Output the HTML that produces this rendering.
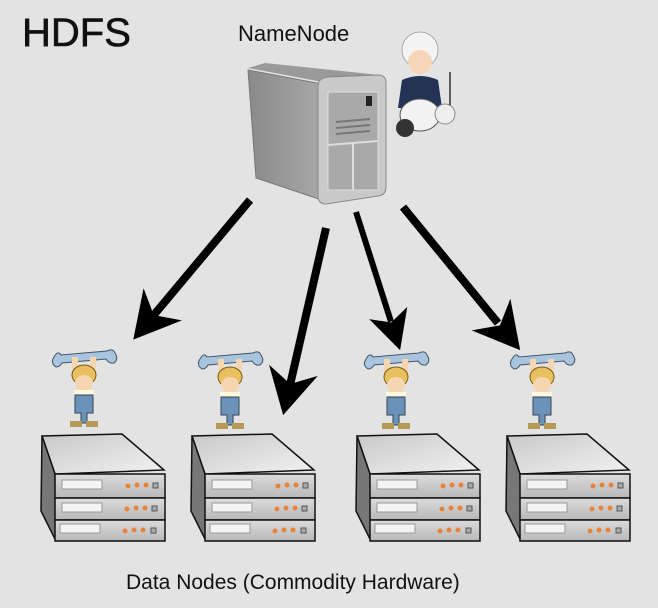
<!DOCTYPE html>
<html><head><style>
html,body{margin:0;padding:0;background:#e3e3e3;}
svg{display:block;}
</style></head><body>
<svg width="658" height="608" viewBox="0 0 658 608" xmlns="http://www.w3.org/2000/svg">
<defs>
<linearGradient id="top" x1="0" y1="0" x2="1" y2="1"><stop offset="0" stop-color="#c8c8c8"/><stop offset="1" stop-color="#f2f2f2"/></linearGradient>
<linearGradient id="front" x1="0" y1="0" x2="0" y2="1"><stop offset="0" stop-color="#dcdcdc"/><stop offset="1" stop-color="#b8b8b8"/></linearGradient>
<linearGradient id="tower" x1="0" y1="0" x2="1" y2="0"><stop offset="0" stop-color="#8a8a8a"/><stop offset="1" stop-color="#a8a8a8"/></linearGradient>
<g id="stack">
  <polygon points="2,3 82,1 124,37 15,41" fill="url(#top)" stroke="#111" stroke-width="1.5"/>
  <polygon points="2,3 15,41 16,108 1,78" fill="#777" stroke="#111" stroke-width="1.5"/>
  <rect x="15" y="41" width="110" height="24" fill="url(#front)" stroke="#111" stroke-width="1.5"/>
  <rect x="15" y="65" width="110" height="22" fill="url(#front)" stroke="#111" stroke-width="1.5"/>
  <rect x="15" y="87" width="110" height="21" fill="url(#front)" stroke="#111" stroke-width="1.5"/>
  <rect x="22" y="47" width="40" height="9" fill="#f4f4f4" stroke="#999"/>
  <rect x="22" y="70" width="40" height="9" fill="#f4f4f4" stroke="#999"/>
  <rect x="20" y="91" width="40" height="9" fill="#f4f4f4" stroke="#999"/>
  <g fill="#e8843a"><circle cx="88" cy="53" r="2.5"/><circle cx="97" cy="52" r="2.5"/><circle cx="106" cy="52" r="2.5"/>
  <circle cx="87" cy="76" r="2.5"/><circle cx="96" cy="75" r="2.5"/><circle cx="105" cy="75" r="2.5"/>
  <circle cx="85" cy="98" r="2.5"/><circle cx="94" cy="97" r="2.5"/><circle cx="103" cy="97" r="2.5"/></g>
  <rect x="113" y="50" width="5" height="5" fill="#aaa" stroke="#555"/>
  <rect x="112" y="73" width="5" height="5" fill="#aaa" stroke="#555"/>
  <rect x="111" y="95" width="5" height="5" fill="#aaa" stroke="#555"/>
</g>
<g id="worker">
  <path d="M2,12 q-4,6 2,10 q4,0 6,-4 l44,-4 q3,5 8,4 q5,-4 1,-10 q-2,-5 -8,-2 l-46,4 q-3,-5 -7,2z" fill="#a9c4de" stroke="#456" stroke-width="1"/>
  <rect x="20" y="12" width="6" height="16" fill="#f5d6b0"/><rect x="38" y="12" width="6" height="16" fill="#f5d6b0"/>
  <ellipse cx="32" cy="30" rx="12" ry="10" fill="#e8c060" stroke="#7a5a10"/>
  <ellipse cx="32" cy="38" rx="9" ry="8" fill="#f5d6b0"/>
  <rect x="22" y="45" width="20" height="8" fill="#fff8e0"/>
  <path d="M23,50 h18 v18 h-6 v10 h-6 v-10 h-6z" fill="#6b92b8" stroke="#345"/>
  <rect x="18" y="76" width="12" height="6" fill="#b59a55"/><rect x="34" y="76" width="12" height="6" fill="#b59a55"/>
</g>
</defs>

<text x="22" y="46" font-family="Liberation Sans, sans-serif" font-size="40" fill="#111" stroke="#111" stroke-width="0.6">HDFS</text>
<text x="238" y="41" font-family="Liberation Sans, sans-serif" font-size="22" fill="#111">NameNode</text>

<!-- tower -->
<polygon points="248,68 265,63 380,75 328,83" fill="#9a9a9a"/>
<polygon points="248,70 322,84 322,200 256,178" fill="url(#tower)" stroke="#777"/>
<path d="M318,86 q0,-8 10,-9 l50,-2 q8,0 8,8 l0,104 q0,8 -8,9 l-52,8 q-8,0 -8,-8z" fill="#c9c9c9" stroke="#888"/>
<rect x="328" y="92" width="50" height="98" fill="#a9a9a9" stroke="#ddd"/>
<rect x="366" y="96" width="6" height="10" fill="#222"/>
<g stroke="#777" stroke-width="2"><line x1="336" y1="122" x2="370" y2="119"/><line x1="336" y1="128" x2="370" y2="125"/><line x1="336" y1="134" x2="370" y2="131"/></g>
<line x1="328" y1="145" x2="378" y2="141" stroke="#ddd" stroke-width="2"/>
<line x1="353" y1="144" x2="353" y2="190" stroke="#ddd" stroke-width="2"/>

<!-- policeman -->
<circle cx="420" cy="50" r="18" fill="#f4f4f4" stroke="#aaa"/>
<ellipse cx="420" cy="62" rx="12" ry="12" fill="#f7d5b8"/>
<path d="M402,80 q18,-8 36,0 l4,28 h-44z" fill="#223355"/>
<ellipse cx="420" cy="115" rx="20" ry="16" fill="#f2f2f2" stroke="#555"/>
<circle cx="405" cy="128" r="9" fill="#333"/>
<circle cx="445" cy="114" r="10" fill="#eee" stroke="#888"/>
<line x1="450" y1="72" x2="450" y2="105" stroke="#333" stroke-width="1.5"/>

<!-- arrows -->
<g fill="#000">
<g transform="translate(250,200) rotate(129.9)"><rect x="0" y="-4" width="150" height="8"/><polygon points="182,0 136,-25 150,0 136,25"/></g>
<g transform="translate(326,228) rotate(102.9)"><rect x="0" y="-4" width="160" height="8"/><polygon points="192,0 146,-25 160,0 146,25"/></g>
<g transform="translate(356,212) rotate(72.3)"><rect x="0" y="-3" width="115" height="6"/><polygon points="145,0 106,-20 116,0 106,20"/></g>
<g transform="translate(403,207) rotate(50.7)"><rect x="0" y="-4" width="150" height="8"/><polygon points="185,0 139,-25 153,0 139,25"/></g>
</g>

<use href="#worker" x="52" y="345"/>
<use href="#worker" x="198" y="347"/>
<use href="#worker" x="364" y="347"/>
<use href="#worker" x="510" y="347"/>

<use href="#stack" x="40" y="433"/>
<use href="#stack" x="190" y="433"/>
<use href="#stack" x="355" y="433"/>
<use href="#stack" x="505" y="433"/>

<text x="126" y="589" font-family="Liberation Sans, sans-serif" font-size="21" fill="#111">Data Nodes (Commodity Hardware)</text>
</svg>
</body></html>
